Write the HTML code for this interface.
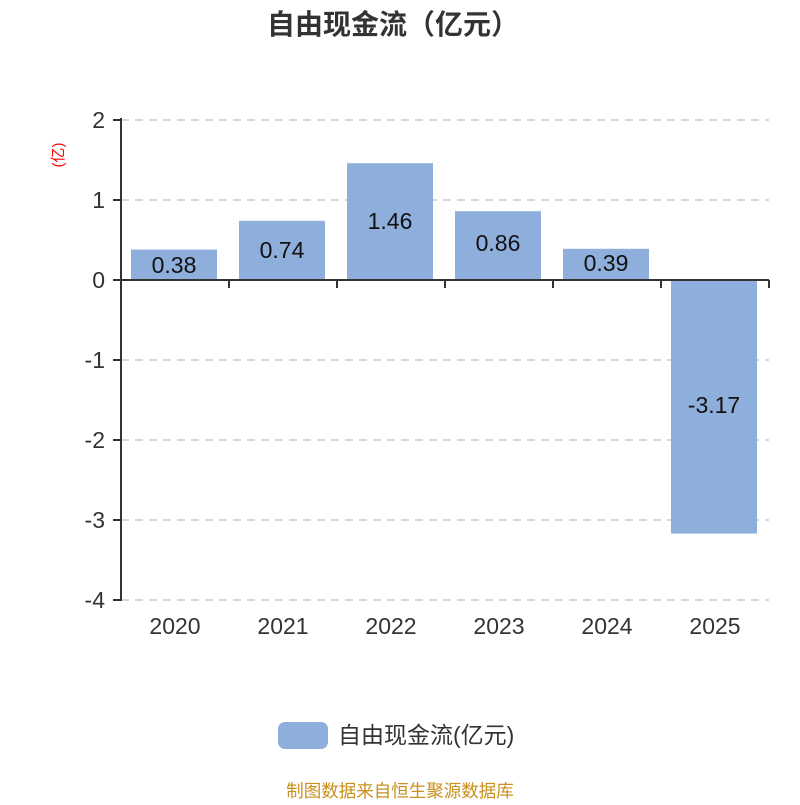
<!DOCTYPE html>
<html><head><meta charset="utf-8"><style>
html,body{margin:0;padding:0;background:#fff;}
svg text{font-family:"Liberation Sans","Noto Sans CJK SC",sans-serif;}
</style></head><body>
<svg width="800" height="800" viewBox="0 0 800 800" xmlns="http://www.w3.org/2000/svg">
<text x="393" y="34" text-anchor="middle" font-size="28" font-weight="bold" fill="#333">自由现金流（亿元）</text>
<g stroke="#ccc" stroke-width="1.5" stroke-dasharray="8,6">
<line x1="121" y1="120" x2="769" y2="120"/>
<line x1="121" y1="200" x2="769" y2="200"/>
<line x1="121" y1="360" x2="769" y2="360"/>
<line x1="121" y1="440" x2="769" y2="440"/>
<line x1="121" y1="520" x2="769" y2="520"/>
<line x1="121" y1="600" x2="769" y2="600"/>
</g>
<g fill="#8eaedb">
<rect x="131" y="249.6" width="86" height="30.4"/>
<rect x="239" y="220.8" width="86" height="59.2"/>
<rect x="347" y="163.2" width="86" height="116.8"/>
<rect x="455" y="211.2" width="86" height="68.8"/>
<rect x="563" y="248.8" width="86" height="31.2"/>
<rect x="671" y="280" width="86" height="253.6"/>
</g>
<g font-size="23" fill="#111" text-anchor="middle">
<text x="174" y="273">0.38</text>
<text x="282" y="258">0.74</text>
<text x="390" y="229">1.46</text>
<text x="498" y="251">0.86</text>
<text x="606" y="271">0.39</text>
<text x="714" y="413">-3.17</text>
</g>
<g stroke="#333" stroke-width="2">
<line x1="121" y1="118" x2="121" y2="601"/>
<line x1="113" y1="120" x2="121" y2="120"/>
<line x1="113" y1="200" x2="121" y2="200"/>
<line x1="113" y1="280" x2="121" y2="280"/>
<line x1="113" y1="360" x2="121" y2="360"/>
<line x1="113" y1="440" x2="121" y2="440"/>
<line x1="113" y1="520" x2="121" y2="520"/>
<line x1="113" y1="600" x2="121" y2="600"/>
<line x1="121" y1="280" x2="769" y2="280"/>
<line x1="229" y1="280" x2="229" y2="288"/>
<line x1="337" y1="280" x2="337" y2="288"/>
<line x1="445" y1="280" x2="445" y2="288"/>
<line x1="553" y1="280" x2="553" y2="288"/>
<line x1="661" y1="280" x2="661" y2="288"/>
<line x1="769" y1="280" x2="769" y2="288"/>
</g>
<g font-size="23" fill="#333" text-anchor="end">
<text x="105" y="128">2</text>
<text x="105" y="208">1</text>
<text x="105" y="288">0</text>
<text x="105" y="368">-1</text>
<text x="105" y="448">-2</text>
<text x="105" y="528">-3</text>
<text x="105" y="608">-4</text>
</g>
<g font-size="23" fill="#333" text-anchor="middle">
<text x="175" y="634">2020</text>
<text x="283" y="634">2021</text>
<text x="391" y="634">2022</text>
<text x="499" y="634">2023</text>
<text x="607" y="634">2024</text>
<text x="715" y="634">2025</text>
</g>
<text transform="translate(63,155) rotate(-90)" text-anchor="middle" font-size="15" fill="#f00">(亿)</text>
<rect x="278" y="722" width="50" height="27" rx="7" fill="#8eaedb"/>
<text x="338" y="743" font-size="23" fill="#333">自由现金流(亿元)</text>
<text x="400" y="797" text-anchor="middle" font-size="17.5" fill="#c8901c">制图数据来自恒生聚源数据库</text>
</svg>
</body></html>
